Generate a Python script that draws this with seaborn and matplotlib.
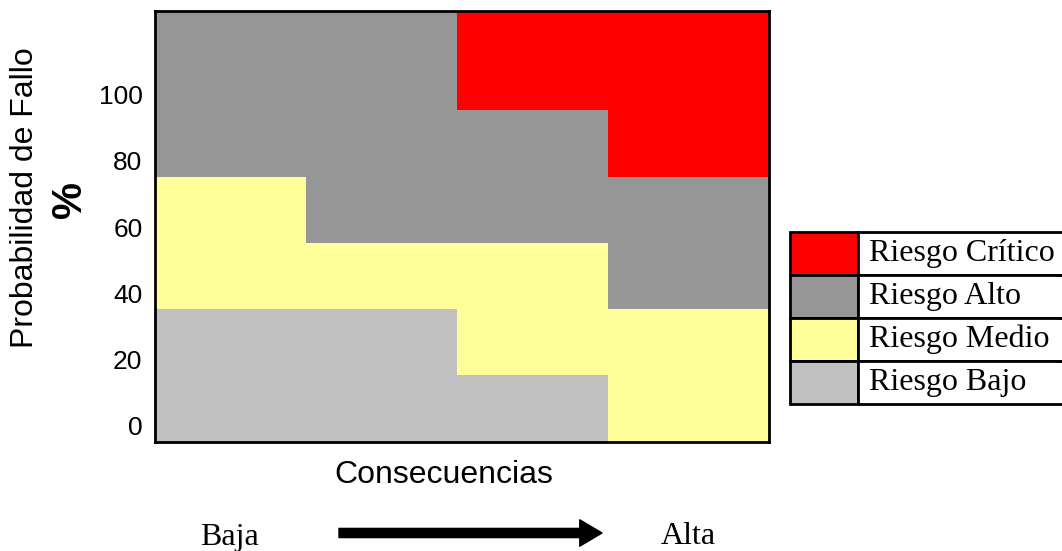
import numpy as np
import pandas as pd
import seaborn as sns
import matplotlib.pyplot as plt
from matplotlib.colors import ListedColormap

# niveles de riesgo y colores
niveles = ['Riesgo Bajo', 'Riesgo Medio', 'Riesgo Alto', 'Riesgo Crítico']
colores = ['#C0C0C0', '#FFFF99', '#969696', '#FF0000']

# bandas de probabilidad (%) y riesgo por columna de consecuencias
bordes_prob = [-4, 16, 36, 56, 76, 96, 126]
riesgo_c1 = ['Riesgo Bajo', 'Riesgo Bajo', 'Riesgo Medio', 'Riesgo Medio', 'Riesgo Alto', 'Riesgo Alto']
riesgo_c2 = ['Riesgo Bajo', 'Riesgo Bajo', 'Riesgo Medio', 'Riesgo Alto', 'Riesgo Alto', 'Riesgo Alto']
riesgo_c3 = ['Riesgo Bajo', 'Riesgo Medio', 'Riesgo Medio', 'Riesgo Alto', 'Riesgo Alto', 'Riesgo Crítico']
riesgo_c4 = ['Riesgo Medio', 'Riesgo Medio', 'Riesgo Alto', 'Riesgo Alto', 'Riesgo Crítico', 'Riesgo Crítico']
yticks = [0, 20, 40, 60, 80, 100]

sns.set_theme(style='white')
plt.rcParams['font.family'] = ['Liberation Sans', 'DejaVu Sans']
plt.rcParams['text.color'] = 'black'
plt.rcParams['ytick.color'] = 'black'

# matriz con celdas de 10 unidades (de arriba hacia abajo)
paso = 10
centros = np.arange(bordes_prob[-1] - paso / 2, bordes_prob[0], -paso)
banda = np.searchsorted(bordes_prob, centros) - 1
anchos = [15, 15, 15, 16]
cols = []
for riesgo, w in zip([riesgo_c1, riesgo_c2, riesgo_c3, riesgo_c4], anchos):
    codigo = np.array([niveles.index(r) for r in riesgo])[banda]
    cols += [codigo] * w
matriz = pd.DataFrame(np.array(cols).T, index=centros)

W, H = 1062, 551
fig = plt.figure(figsize=(W / 100, H / 100), dpi=100)
ax = fig.add_axes([155 / W, 1 - 441.5 / H, (769 - 155) / W, (441.5 - 11) / H])
sns.heatmap(matriz, cmap=ListedColormap(colores), vmin=-0.5, vmax=3.5,
            cbar=False, ax=ax)

ax.set_xticks([])
ax.set_yticks([(bordes_prob[-1] - v) / paso for v in yticks])
ax.set_yticklabels([str(v) for v in yticks], rotation=0, fontsize=19, color='black')
ax.tick_params(axis='y', length=0, pad=9)
ax.set_xlabel('')
ax.set_ylabel('')
for s in ax.spines.values():
    s.set_visible(True)
    s.set_linewidth(2)
    s.set_color('black')

fig.text(25 / W, 1 - 198 / H, 'Probabilidad de Fallo', rotation=90,
         ha='center', va='center', fontsize=23)
fig.text(70 / W, 1 - 199 / H, '%', rotation=90, ha='center', va='center',
         fontsize=30, fontweight='bold')
fig.text(444 / W, 1 - 475 / H, 'Consecuencias', ha='center', va='center', fontsize=23)
fig.text(229 / W, 1 - 537 / H, 'Baja', ha='center', va='center', fontsize=23,
         family='Liberation Serif')
fig.text(688 / W, 1 - 537 / H, 'Alta', ha='center', va='center', fontsize=23,
         family='Liberation Serif')
ax.annotate('', xy=(602, H - 533), xytext=(339, H - 533), xycoords='figure pixels',
            textcoords='figure pixels',
            arrowprops=dict(arrowstyle='simple,head_length=0.8,head_width=0.95,tail_width=0.33',
                            mutation_scale=20, color='black', shrinkA=0, shrinkB=0))

# leyenda en forma de tabla
lax = fig.add_axes([790 / W, 1 - 404 / H, 272 / W, (404 - 232) / H])
lax.axis('off')
orden = list(range(len(niveles)))[::-1]
tabla = lax.table(cellText=[['', niveles[i]] for i in orden],
                  cellColours=[[colores[i], 'white'] for i in orden],
                  colWidths=[68 / 272, 204 / 272], cellLoc='left', bbox=[0, 0, 1, 1])
tabla.auto_set_font_size(False)
for (r, c), cell in tabla.get_celld().items():
    cell.set_linewidth(2)
    cell.set_edgecolor('black')
    cell.get_text().set_fontsize(23)
    cell.get_text().set_family('Liberation Serif')
    cell.get_text().set_color('black')
    if c == 1:
        cell.PAD = 11 / 204
        cell.visible_edges = 'BTL'

fig.savefig('out.png', dpi=100)
